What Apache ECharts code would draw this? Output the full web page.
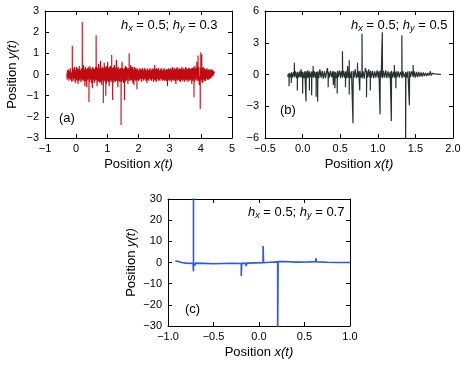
<!DOCTYPE html>
<html>
<head>
<meta charset="utf-8">
<script src="https://cdn.jsdelivr.net/npm/echarts@6/dist/echarts.min.js"></script>
<style>
  html, body { margin: 0; padding: 0; background: #fff; }
  #main { width: 467px; height: 369px; }
</style>
</head>
<body>
<div id="main"></div>
<script>
// trajectories, [x(t), y(t)]
const trajA = [
  [-0.30, 0.05], [-0.29, -0.25], [-0.28, 0.20], [-0.26, -0.15], [-0.25, 0.25], [-0.23, -0.30], [-0.22, 0.15], [-0.20, -0.20],
  [-0.19, 0.30], [-0.17, -0.25], [-0.16, 0.10], [-0.14, -0.35], [-0.125, 0.15], [-0.125, 1.36], [-0.122, -0.10], [-0.11, 0.30],
  [-0.09, -0.30], [-0.08, 0.25], [-0.06, -0.20], [-0.05, 0.35], [-0.03, -0.40], [-0.02, 0.20], [0.00, -0.30], [0.01, 0.35],
  [0.03, -0.25], [0.04, 0.30], [0.06, -0.45], [0.07, 0.25], [0.09, -0.30], [0.10, 0.40], [0.12, -0.25], [0.13, 0.20],
  [0.15, -0.35], [0.16, 0.30], [0.18, -0.20], [0.195, 0.10], [0.195, 2.48], [0.198, -0.30], [0.21, 0.30], [0.22, -0.25],
  [0.24, 0.45], [0.25, -0.30], [0.27, 0.25], [0.28, -0.55], [0.30, 0.35], [0.31, -0.30], [0.33, 0.25], [0.34, -0.60],
  [0.36, 0.30], [0.37, -0.25], [0.39, 0.35], [0.41, -0.10], [0.41, -1.30], [0.413, 0.25], [0.43, -0.35], [0.44, 0.40],
  [0.46, -0.25], [0.47, 0.30], [0.49, -0.40], [0.50, 0.25], [0.52, -0.65], [0.53, 0.35], [0.55, -0.25], [0.56, 0.30],
  [0.58, -0.40], [0.59, 0.25], [0.61, -0.30], [0.62, 0.35], [0.64, 0.10], [0.64, 1.85], [0.643, -0.25], [0.66, 0.35],
  [0.67, -0.55], [0.69, 0.30], [0.70, -0.35], [0.72, 0.50], [0.73, -0.30], [0.75, 0.30], [0.76, -0.40], [0.78, 0.65],
  [0.79, -0.35], [0.81, 0.30], [0.82, -0.50], [0.84, 0.35], [0.85, -0.25], [0.87, -0.10], [0.87, -1.35], [0.873, 0.30],
  [0.89, -0.35], [0.90, 0.55], [0.92, -0.30], [0.93, 0.35], [0.95, -0.10], [0.95, -1.00], [0.953, 0.30], [0.97, -0.45],
  [0.98, 0.40], [1.00, -0.30], [1.01, 0.60], [1.03, -0.35], [1.04, 0.30], [1.06, -0.55], [1.07, 0.35], [1.09, -0.30],
  [1.10, 0.40], [1.12, -0.35], [1.14, 0.10], [1.14, 0.92], [1.143, -0.25], [1.155, 0.30], [1.17, -0.10], [1.17, -1.20],
  [1.173, 0.30], [1.19, -0.40], [1.20, 0.35], [1.22, -0.30], [1.23, 0.45], [1.25, -0.35], [1.26, 0.30], [1.28, -0.30],
  [1.29, 0.70], [1.31, -0.30], [1.32, 0.30], [1.34, -0.60], [1.35, 0.35], [1.37, -0.30], [1.38, 0.25], [1.40, -0.35],
  [1.41, 0.30], [1.44, -0.10], [1.44, -2.38], [1.443, 0.30], [1.46, -0.35], [1.47, 0.60], [1.49, -0.30], [1.50, 0.30],
  [1.52, -0.40], [1.53, 0.25], [1.55, -0.10], [1.55, -1.20], [1.553, 0.30], [1.57, -0.35], [1.58, 0.40], [1.60, -0.30],
  [1.61, 0.35], [1.63, -0.25], [1.64, 0.30], [1.66, -0.45], [1.67, 0.30], [1.70, 0.10], [1.70, 1.00], [1.703, -0.30],
  [1.72, 0.30], [1.73, -0.30], [1.75, 0.45], [1.76, -0.25], [1.78, 0.35], [1.79, -0.30], [1.81, 0.35], [1.82, -0.40],
  [1.84, 0.25], [1.85, -0.50], [1.87, 0.35], [1.88, -0.25], [1.90, 0.30], [1.91, -0.30], [1.93, 0.25], [1.95, -0.10],
  [1.95, -0.70], [1.953, 0.30], [1.97, -0.25], [1.98, 0.25], [2.00, -0.30], [2.01, 0.20], [2.03, -0.25], [2.04, 0.30],
  [2.06, -0.20], [2.07, 0.25], [2.09, -0.35], [2.10, 0.25], [2.12, -0.20], [2.13, 0.30], [2.15, -0.30], [2.16, 0.20],
  [2.18, -0.25], [2.19, 0.30], [2.21, -0.20], [2.22, 0.25], [2.24, -0.30], [2.25, 0.20], [2.27, -0.40], [2.28, 0.30],
  [2.30, -0.25], [2.31, 0.20], [2.33, -0.30], [2.34, 0.25], [2.36, -0.20], [2.37, 0.30], [2.39, -0.25], [2.40, 0.20],
  [2.42, -0.30], [2.43, 0.25], [2.45, -0.20], [2.46, 0.30], [2.48, -0.35], [2.49, 0.25], [2.51, -0.25], [2.52, 0.45],
  [2.54, -0.30], [2.55, 0.25], [2.57, -0.35], [2.58, 0.30], [2.60, -0.20], [2.61, 0.25], [2.63, -0.30], [2.64, 0.30],
  [2.66, -0.25], [2.67, 0.20], [2.69, -0.30], [2.70, 0.25], [2.72, -0.20], [2.73, 0.30], [2.75, -0.25], [2.76, 0.20],
  [2.78, -0.30], [2.79, 0.25], [2.81, -0.25], [2.82, 0.30], [2.84, -0.30], [2.85, 0.20], [2.87, -0.25], [2.88, 0.25],
  [2.90, -0.30], [2.91, 0.25], [2.93, -0.55], [2.94, 0.25], [2.96, -0.25], [2.97, 0.30], [2.99, -0.30], [3.00, 0.25],
  [3.02, -0.25], [3.03, 0.30], [3.05, -0.35], [3.06, 0.25], [3.08, -0.25], [3.09, 0.35], [3.11, -0.30], [3.12, 0.25],
  [3.14, -0.25], [3.15, 0.30], [3.17, -0.30], [3.18, 0.25], [3.20, -0.45], [3.21, 0.30], [3.23, -0.25], [3.24, 0.35],
  [3.26, -0.30], [3.27, 0.25], [3.29, -0.25], [3.30, 0.30], [3.32, -0.30], [3.33, 0.25], [3.35, -0.35], [3.36, 0.30],
  [3.38, -0.25], [3.39, 0.35], [3.41, -0.30], [3.42, 0.25], [3.44, -0.25], [3.45, 0.30], [3.47, -0.35], [3.48, 0.25],
  [3.50, -0.25], [3.51, 0.35], [3.53, -0.30], [3.54, 0.30], [3.56, -0.25], [3.57, 0.25], [3.59, -0.35], [3.60, 0.30],
  [3.62, -0.25], [3.63, 0.30], [3.65, -0.30], [3.66, 0.25], [3.68, -0.25], [3.69, 0.30], [3.71, -0.45], [3.72, 0.30],
  [3.74, -0.30], [3.76, 0.35], [3.78, -0.10], [3.78, -1.08], [3.783, 0.30], [3.80, -0.35], [3.81, 0.40], [3.83, -0.25],
  [3.85, 0.30], [3.87, 0.10], [3.87, 0.60], [3.873, -0.30], [3.89, 0.30], [3.91, 0.10], [3.91, 0.90], [3.913, -0.30],
  [3.93, 0.35], [3.95, -0.50], [3.98, -0.10], [3.98, -1.63], [3.983, 0.30], [4.00, 0.10], [4.00, 1.05], [4.003, -0.25],
  [4.03, 0.10], [4.03, 0.95], [4.033, -0.35], [4.05, 0.30], [4.06, -0.40], [4.08, 0.35], [4.09, -0.25], [4.11, 0.30],
  [4.12, -0.30], [4.14, 0.25], [4.15, -0.30], [4.17, 0.25], [4.18, -0.20], [4.20, 0.30], [4.21, -0.25], [4.23, 0.20],
  [4.24, -0.25], [4.26, 0.25], [4.27, -0.20], [4.29, 0.25], [4.30, -0.20], [4.32, 0.20], [4.33, -0.15], [4.35, 0.25],
  [4.36, -0.10], [4.38, 0.20], [4.40, -0.05], [4.42, 0.15], [4.44, 0.05]
]
const trajB = [
  [-0.20, 0.00], [-0.19, -0.25], [-0.18, 0.10], [-0.18, -1.10], [-0.177, 0.15], [-0.165, -0.25], [-0.15, 0.15], [-0.15, -0.80],
  [-0.147, 0.20], [-0.135, -0.30], [-0.12, 0.25], [-0.11, -0.20], [-0.11, 1.10], [-0.107, -0.25], [-0.095, 0.30], [-0.08, -0.35],
  [-0.07, 0.20], [-0.07, -1.50], [-0.067, 0.25], [-0.055, -0.30], [-0.04, 0.30], [-0.03, -0.25], [-0.02, 0.50], [-0.01, -0.30],
  [0.00, 0.20], [0.00, -1.80], [0.003, 0.25], [0.015, -0.35], [0.03, 0.30], [0.045, 0.20], [0.045, -2.55], [0.048, 0.30],
  [0.06, -0.35], [0.07, 0.40], [0.08, -0.30], [0.09, 0.20], [0.09, -1.50], [0.093, 0.30], [0.105, -0.25], [0.12, 0.20],
  [0.12, -1.95], [0.123, 0.30], [0.14, -0.20], [0.14, 0.80], [0.143, -0.30], [0.155, 0.30], [0.17, -0.35], [0.18, 0.20],
  [0.18, -2.10], [0.183, 0.25], [0.19, -0.30], [0.20, 0.20], [0.20, -2.55], [0.203, 0.30], [0.215, -0.35], [0.23, 0.50],
  [0.245, -0.30], [0.26, 0.35], [0.275, -0.40], [0.29, 0.30], [0.305, -0.35], [0.32, 0.30], [0.33, 0.60], [0.34, -0.25],
  [0.34, -1.20], [0.343, 0.25], [0.355, -0.30], [0.37, 0.35], [0.385, -0.25], [0.40, 0.30], [0.41, -1.00], [0.413, 0.30],
  [0.425, -0.30], [0.43, -1.30], [0.433, 0.25], [0.445, -0.35], [0.46, 0.20], [0.46, -1.80], [0.463, 0.35], [0.475, -0.25],
  [0.49, 0.40], [0.505, -0.35], [0.515, 0.30], [0.53, -0.20], [0.53, 2.20], [0.533, -0.30], [0.545, 0.35], [0.56, -0.30],
  [0.57, 0.20], [0.57, -1.20], [0.573, 0.30], [0.585, -0.35], [0.60, 0.80], [0.605, -0.30], [0.62, 0.20], [0.62, 1.35],
  [0.62, -1.90], [0.623, 0.30], [0.635, -0.35], [0.65, 0.30], [0.67, 0.20], [0.67, -4.60], [0.673, 0.35], [0.685, -0.30],
  [0.70, 0.50], [0.715, -0.35], [0.73, 0.20], [0.73, 1.10], [0.733, -0.25], [0.745, 0.30], [0.76, 0.20], [0.76, -1.50],
  [0.763, 0.35], [0.775, -0.30], [0.79, 0.20], [0.79, 3.85], [0.793, -0.35], [0.805, 0.30], [0.82, -0.40], [0.835, 0.60],
  [0.85, 0.20], [0.85, -2.15], [0.853, 0.35], [0.865, -0.30], [0.88, 0.50], [0.89, -0.25], [0.90, 0.20], [0.90, -1.50],
  [0.903, 0.35], [0.915, -0.30], [0.93, 0.35], [0.945, -0.35], [0.96, 0.30], [0.975, -0.30], [0.99, 0.40], [1.005, -0.30],
  [1.015, 0.30], [1.03, 0.20], [1.03, -3.75], [1.033, 0.35], [1.045, -0.25], [1.06, -0.20], [1.06, 4.00], [1.063, -0.35],
  [1.075, 0.35], [1.09, -0.30], [1.105, 0.40], [1.12, -0.35], [1.135, 0.30], [1.15, -0.30], [1.165, 0.25], [1.18, 0.20],
  [1.18, -4.40], [1.183, 0.35], [1.195, -0.30], [1.21, 0.25], [1.22, -0.20], [1.22, 0.90], [1.223, -0.30], [1.24, 0.20],
  [1.24, -1.30], [1.243, 0.30], [1.255, -0.25], [1.27, 0.30], [1.285, -0.30], [1.30, 0.25], [1.32, -0.20], [1.32, 3.70],
  [1.323, -0.35], [1.335, 0.30], [1.35, -0.25], [1.37, 0.20], [1.37, -6.80], [1.373, 0.25], [1.385, -0.30], [1.40, 0.30],
  [1.42, 0.20], [1.42, -2.90], [1.423, 0.30], [1.435, -0.25], [1.45, 0.30], [1.47, -0.20], [1.47, 0.90], [1.473, -0.25],
  [1.485, 0.30], [1.50, -0.30], [1.515, 0.25], [1.53, -0.25], [1.545, 0.25], [1.56, -0.20], [1.575, 0.20], [1.59, -0.20],
  [1.605, 0.20], [1.62, -0.15], [1.635, 0.15], [1.65, -0.15], [1.665, 0.15], [1.68, -0.10], [1.70, 0.30], [1.71, -0.10],
  [1.725, 0.10], [1.74, -0.08], [1.76, 0.06], [1.78, -0.05], [1.80, 0.04], [1.82, -0.02], [1.84, 0.00]
]
const trajC = [
  [-0.92, 0.80], [-0.90, 0.30], [-0.85, 0.00], [-0.80, -0.30], [-0.725, -0.40], [-0.72, -4.20], [-0.72, 34.0], [-0.72, -0.50],
  [-0.71, -0.80], [-0.705, -1.50], [-0.70, -0.30], [-0.60, -0.40], [-0.50, -0.60], [-0.40, -0.50], [-0.30, -0.40], [-0.195, -0.50],
  [-0.195, -6.40], [-0.19, -0.40], [-0.15, -0.30], [-0.14, -1.70], [-0.135, -0.30], [-0.05, -0.20], [0.045, -0.10], [0.045, 7.80],
  [0.05, -0.10], [0.12, 0.10], [0.205, 0.30], [0.205, -34.0], [0.21, 0.40], [0.28, 0.50], [0.40, 0.20], [0.55, 0.30],
  [0.625, 0.40], [0.625, 2.10], [0.63, 0.30], [0.75, 0.10], [0.85, 0.00], [1.00, 0.00]
]
const panelTags = ['(a)', '(b)', '(c)']
const hyValues = ['0.3', '0.5', '0.7']
const hxValue = '0.5'

const FONT = 'Liberation Sans, Arial, Helvetica, sans-serif'
const minus = v => String(v).replace('-', '\u2212')

function axisPair(gridIndex, min, max, interval, fmt, isX, nameText, nameGap) {
  const common = {
    gridIndex: gridIndex,
    type: 'value',
    min: min, max: max, interval: interval,
    splitLine: { show: false },
    axisLine: { onZero: false, lineStyle: { color: '#000', width: 1 } },
    axisTick: { inside: true, length: 4, lineStyle: { color: '#000' } }
  }
  const main = Object.assign({}, common, {
    position: isX ? 'bottom' : 'left',
    axisLabel: { fontFamily: FONT, fontSize: 11, color: '#000', margin: isX ? 5 : 6, formatter: fmt }
  })
  if (nameText) {
    main.name = '{n|Position }{i|' + nameText + '}'
    main.nameLocation = 'middle'
    main.nameGap = nameGap
    main.nameTextStyle = {
      rich: {
        n: { fontFamily: FONT, fontSize: 13, color: '#000' },
        i: { fontFamily: FONT, fontSize: 13, color: '#000', fontStyle: 'italic' }
      }
    }
  }
  const mirror = Object.assign({}, common, {
    position: isX ? 'top' : 'right',
    axisLabel: { show: false }
  })
  return [main, mirror]
}

const grids = [
  { left: 45, top: 11, width: 187, height: 127 },
  { left: 265, top: 11, width: 188, height: 127 },
  { left: 168, top: 199, width: 182, height: 127 }
]

const xAxes = [].concat(
  axisPair(0, -1, 5, 1, v => minus(v), true, 'x(t)', 20),
  axisPair(1, -0.5, 2, 0.5, v => minus(v.toFixed(1)), true, 'x(t)', 20),
  axisPair(2, -1, 1, 0.5, v => minus(v.toFixed(1)), true, 'x(t)', 20)
)
const yAxes = [].concat(
  axisPair(0, -3, 3, 1, v => minus(v), false, 'y(t)', 26),
  axisPair(1, -6, 6, 3, v => minus(v), false, null, 0),
  axisPair(2, -30, 30, 10, v => minus(v), false, 'y(t)', 30)
)

const colors = ['#c20a12', '#263131', '#2a58f0']
const widths = [1.1, 1.2, 1.6]
const trajs = [trajA, trajB, trajC]

const series = trajs.map((d, i) => ({
  type: 'line',
  xAxisIndex: i * 2,
  yAxisIndex: i * 2,
  data: d,
  showSymbol: false,
  symbol: 'none',
  clip: true,
  animation: false,
  lineStyle: { color: colors[i], width: widths[i] }
}))

// text inside the panels: h_x / h_y labels and (a)(b)(c) tags
const annotPos = [[121, 25], [351, 25], [248, 212]]
const tagPos = [[59, 118], [280, 110], [185, 309]]
const graphics = []
annotPos.forEach((p, i) => {
  graphics.push({
    type: 'text',
    x: p[0], y: p[1],
    style: {
      text: '{i|h}{s|x}{n| = ' + hxValue + '; }{i|h}{s|y}{n| = ' + hyValues[i] + '}',
      verticalAlign: 'middle',
      rich: {
        n: { fontFamily: FONT, fontSize: 13, fill: '#000', lineHeight: 16 },
        i: { fontFamily: FONT, fontSize: 13, fill: '#000', fontStyle: 'italic', lineHeight: 16 },
        s: { fontFamily: FONT, fontSize: 9, fill: '#000', fontStyle: 'italic', lineHeight: 16, verticalAlign: 'bottom' }
      }
    }
  })
})
tagPos.forEach((p, i) => {
  graphics.push({
    type: 'text',
    x: p[0], y: p[1],
    style: { text: panelTags[i], fontFamily: FONT, fontSize: 13, fill: '#000', verticalAlign: 'middle' }
  })
})

const chart = echarts.init(document.getElementById('main'), null, { renderer: 'canvas' })
chart.setOption({
  animation: false,
  backgroundColor: '#fff',
  grid: grids,
  xAxis: xAxes,
  yAxis: yAxes,
  series: series,
  graphic: graphics
})
</script>
</body>
</html>
